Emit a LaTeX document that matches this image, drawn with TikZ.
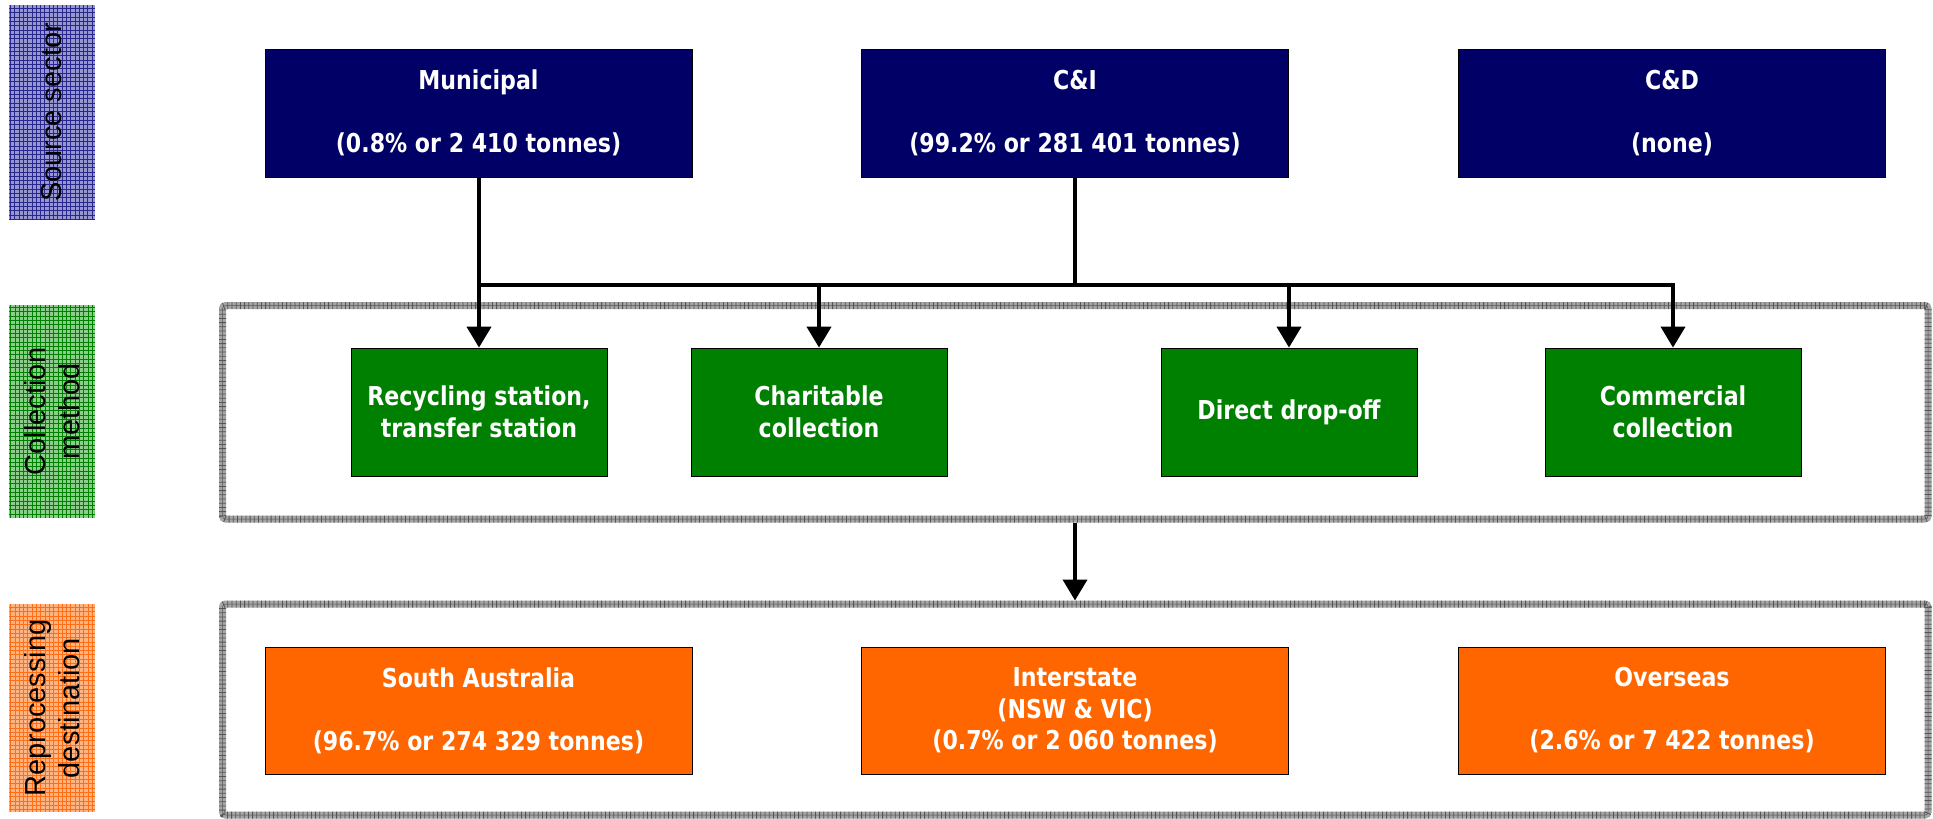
\documentclass[tikz,border=0pt]{standalone}
\usepackage{fontspec}
\setmainfont{DejaVu Sans}[FakeStretch=0.85]
\newfontfamily\labfont{Liberation Sans}
\usetikzlibrary{arrows.meta}
\definecolor{navyc}{RGB}{0,0,102}
\definecolor{greenc}{RGB}{0,128,0}
\definecolor{orangec}{RGB}{255,102,0}
\definecolor{srcfill}{RGB}{150,150,208}
\definecolor{srcgrid}{RGB}{40,40,140}
\definecolor{colfill}{RGB}{140,205,140}
\definecolor{colgrid}{RGB}{0,128,0}
\definecolor{repfill}{RGB}{255,180,130}
\definecolor{repgrid}{RGB}{255,110,20}
\definecolor{framec}{RGB}{165,165,165}
\definecolor{frametick}{RGB}{85,85,85}
\tikzset{
  box/.style={draw=black, line width=0.8, inner sep=0, text=white, align=center,
    font=\fontsize{26}{31.5}\selectfont\bfseries},
  srcbox/.style={box, fill=navyc, minimum width=427, minimum height=128},
  colbox/.style={box, fill=greenc, minimum width=256, minimum height=128},
  repbox/.style={box, fill=orangec, minimum width=427, minimum height=127},
  frame/.style={draw=framec, line width=7, rounded corners=3, inner sep=0,
    postaction={draw=frametick, line width=7, dash pattern=on 0.8pt off 3.4pt},
    postaction={draw=frametick, line width=0.5}},
  lab/.style={inner sep=0, rotate=90, minimum width=#1, minimum height=86, align=center,
    font=\labfont\fontsize{29}{34}\selectfont},
  gridded/.style={path picture={\draw[#1, line width=0.7, step=4.3pt]
    (path picture bounding box.south west) grid (path picture bounding box.north east);}},
  conn/.style={line width=4, draw=black},
  arr/.style={conn, -{Triangle[width=24pt,length=21pt]}}
}
\begin{document}
\begin{tikzpicture}[x=1pt,y=-1pt]
\useasboundingbox (0,0) rectangle (1933,819);

% side labels
\node[lab=215, fill=srcfill, gridded=srcgrid] (lsrc) at (52,112.5) {Source sector};
\node[lab=213, fill=colfill, gridded=colgrid] (lcol) at (52,411.5) {Collection\\method};
\node[lab=208, fill=repfill, gridded=repgrid] (lrep) at (52,708) {Reprocessing\\destination};

% frames
\node[frame, minimum width=1705.5, minimum height=213.5] (colf) at (1075.25,412.25) {};
\node[frame, minimum width=1705.5, minimum height=211] (repf) at (1075.25,709.5) {};

% source sector
\node[srcbox] (mun) at (478.5,113) {Municipal\\[31.5pt](0.8\% or 2 410 tonnes)};
\node[srcbox] (ci) at (1075,113) {C\&I\\[31.5pt](99.2\% or 281 401 tonnes)};
\node[srcbox] (cd) at (1672,113) {C\&D\\[31.5pt](none)};

% collection method
\node[colbox] (rec) at (479,412) {Recycling station,\\transfer station};
\node[colbox] (cha) at (819,412) {Charitable\\collection};
\node[colbox] (dro) at (1289,412) {Direct drop-off};
\node[colbox] (com) at (1673,412) {Commercial\\collection};

% reprocessing destination
\node[repbox] (sa) at (478.5,710.5) {South Australia\\[31.5pt](96.7\% or 274 329 tonnes)};
\node[repbox] (ist) at (1075,710.5) {Interstate\\(NSW \& VIC)\\(0.7\% or 2 060 tonnes)};
\node[repbox] (ovs) at (1672,710.5) {Overseas\\[31.5pt](2.6\% or 7 422 tonnes)};

% connectors
\coordinate (j) at (0,285);
\draw[arr] (mun.south -| rec.north) -- (rec.north);
\draw[arr] (rec.north |- j) -| (cha.north);
\draw[conn] (ci.south) |- (cha.north |- j);
\draw[arr] (ci.south |- j) -| (dro.north);
\draw[arr] (ci.south |- j) -| (com.north);
\draw[arr] (colf.south -| ci.south) -- (repf.north -| ci.south);
\end{tikzpicture}
\end{document}
